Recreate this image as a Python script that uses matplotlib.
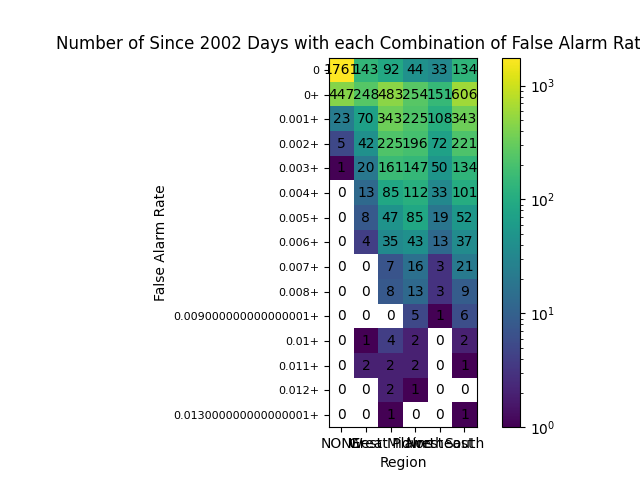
import numpy as np
import matplotlib
matplotlib.use("Agg")
import matplotlib.pyplot as plt
from matplotlib.colors import LogNorm

regions = ["NONE", "West", "Great Plains", "Midwest", "Northeast", "South"]
far_labels = ["0", "0+", "0.001+", "0.002+", "0.003+", "0.004+", "0.005+", "0.006+",
              "0.007+", "0.008+", "0.009000000000000001+", "0.01+", "0.011+", "0.012+",
              "0.013000000000000001+"]
counts = [
    [1761, 143, 92, 44, 33, 134],
    [447, 248, 483, 254, 151, 606],
    [23, 70, 343, 225, 108, 343],
    [5, 42, 225, 196, 72, 221],
    [1, 20, 161, 147, 50, 134],
    [0, 13, 85, 112, 33, 101],
    [0, 8, 47, 85, 19, 52],
    [0, 4, 35, 43, 13, 37],
    [0, 0, 7, 16, 3, 21],
    [0, 0, 8, 13, 3, 9],
    [0, 0, 0, 5, 1, 6],
    [0, 1, 4, 2, 0, 2],
    [0, 2, 2, 2, 0, 1],
    [0, 0, 2, 1, 0, 0],
    [0, 0, 1, 0, 0, 1],
]

data = np.array(counts, dtype=float)
masked = np.ma.masked_where(data <= 0, data)

fig = plt.figure(figsize=(6.4, 4.8), dpi=100)
im = plt.imshow(masked, cmap="viridis", norm=LogNorm(vmin=1, vmax=data.max()))
plt.colorbar(im)
ax = plt.gca()
for i in range(data.shape[0]):
    for j in range(data.shape[1]):
        ax.text(j, i, str(int(data[i, j])), ha="center", va="center", color="black", fontsize=10)
ax.set_xticks(range(len(regions)))
ax.set_xticklabels(regions)
ax.set_yticks(range(len(far_labels)))
ax.set_yticklabels(far_labels, fontsize=8)
ax.set_xlabel("Region")
ax.set_ylabel("False Alarm Rate")
ax.set_title("Number of Since 2002 Days with each Combination of False Alarm Rate and Region")
fig.savefig("out.png", dpi=100)
